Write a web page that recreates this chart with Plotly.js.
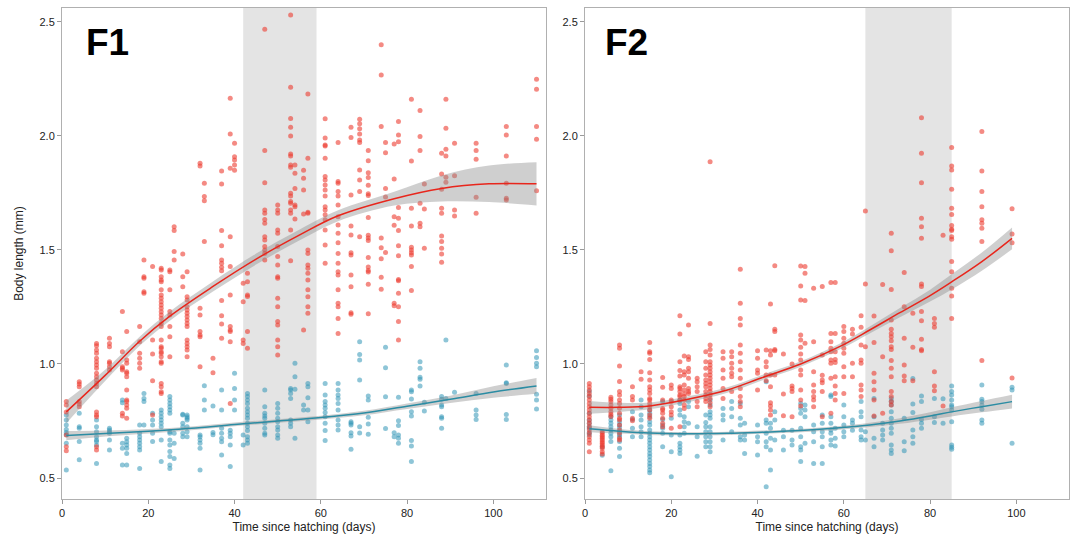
<!DOCTYPE html>
<html>
<head>
<meta charset="utf-8">
<script src="https://cdn.plot.ly/plotly-3.0.1.min.js"></script>
<style>html,body{margin:0;padding:0;background:#fff;}#chart{width:1073px;height:535px;}</style>
</head>
<body>
<div id="chart"></div>
<script>
// ---------- F1 data ----------
const f1RedDays = [1,4,8,11,14,15,18,19,21,23,25,26,28,29,32,33,35,37,39,40,42,43,47,50,53,54,56,57,61,64,67,69,71,74,75,77,78,81,83,84,88,89,91,96,103,110];
const f1RedVals = [
 [0.835,0.82,0.79,0.689,0.637,0.62],
 [0.922,0.912,0.9,0.835,0.825,0.813],
 [1.09,1.08,1.061,1.047,1.025,1.01,0.996,0.981,0.959,0.944,0.93,0.915,0.9,0.79,0.776,0.769,0.637,0.623],
 [1.113,1.09,1.076,1.01,1.003,0.988,0.974],
 [1.23,1.054,0.988,0.981,0.974,0.784,0.772],
 [1.142,1.018,1.003,0.966,0.959,0.944,0.886,0.842,0.835,0.82,0.806,0.762],
 [1.164,1.098,1.047,1.025,1.003,0.981],
 [1.456,1.383,1.376,1.317,1.31],
 [1.427,1.105,1.044,0.927,0.776],
 [1.42,1.412,1.383,1.368,1.361,1.325,1.303,1.288,1.273,1.259,1.244,1.229,1.215,1.2,1.178,1.164,1.105,1.076,1.069,1.054,1.047,1.032,1.01,1.003,0.915,0.9,0.878,0.871],
 [1.412,1.405,1.325,1.23,1.215,1.164,1.12,1.032],
 [1.602,1.585,1.493,1.456],
 [1.482,1.383,1.339],
 [1.405,1.295,1.281,1.251,1.237,1.222,1.208,1.193,1.178,1.164,1.105,1.09,1.076,1.061,1.032],
 [1.88,1.868,1.244,1.215,1.142,1.127,1.12,0.988],
 [1.792,1.734,1.716,1.537],
 [1.025,0.962],
 [1.846,1.789,1.585,1.518,1.456,1.442,1.424,1.409,1.278,1.211,1.175,1.113],
 [2.165,2.009,1.858,1.558,1.427,1.303,1.164,1.149,1.142,1.098,0.827],
 [1.968,1.909,1.895,1.873,1.85],
 [1.354,1.273,1.105,1.09],
 [1.398,1.361,1.303,1.296,1.142,1.069],
 [2.468,1.936,1.795,1.675,1.661,1.634,1.617,1.558,1.544,1.515,1.5,1.485,1.456],
 [1.697,1.675,1.661,1.588,1.573,1.515,1.471,1.434,1.383,1.376,1.288,1.251,1.186,1.171,1.105,1.076,1.039],
 [2.53,2.213,2.077,2.038,2.0,1.921,1.912,1.873,1.863,1.749,1.737,1.712,1.705,1.675,1.661,1.588,1.453],
 [1.873,1.836,1.77,1.697,1.69,1.636],
 [1.85,1.814,1.763,1.658,1.149],
 [2.184,1.902,1.665,1.661,1.5,1.485,1.434,1.42,1.398,1.368,1.325,1.295,1.251,1.222],
 [2.075,1.991,1.96,1.956,1.902,1.822,1.807,1.785,1.763,1.737,1.69,1.675,1.654,1.632,1.588,1.522,1.442],
 [1.971,1.8,1.792,1.756,1.737,1.697,1.646,1.61,1.573,1.532,1.485,1.442,1.405,1.39,1.325,1.266,1.251,1.2,1.134],
 [2.038,1.993,1.741,1.605,1.566,1.488,1.478,1.39,1.339,1.225,1.218],
 [2.073,2.053,2.031,2.009,1.982,1.971,1.851,1.807,1.756,1.558],
 [1.936,1.891,1.839,1.818,1.784,1.746,1.739,1.642,1.564,1.553,1.541,1.467,1.425,1.41,1.403,1.35,1.22],
 [2.4,2.267,2.041,1.552,1.51,1.462,1.38,1.328],
 [1.971,1.926,1.769,1.732,1.489],
 [1.965,1.811,1.646,1.608,1.266,1.255],
 [2.063,2.004,1.975,1.686,1.639,1.585,1.519,1.475,1.371,1.365,1.31,1.251,1.186,1.105],
 [2.161,1.89,1.683,1.605,1.512,1.5,1.488,1.478,1.427,1.322],
 [2.111,1.997,1.936,1.705,1.617,1.602],
 [1.789,1.68,1.507],
 [1.924,1.833,1.766,1.683,1.661,1.561,1.537,1.507,1.482,1.446],
 [2.161,2.034,1.942,1.912,1.819,1.797],
 [1.968,1.825,1.675,1.649],
 [1.968,1.936,1.898,1.731,1.661],
 [2.041,2.004,1.912,1.792,1.727,1.719],
 [2.249,2.205,2.041,1.985,1.76]
];
const f1BlueDays = [1,4,8,11,14,15,18,19,21,23,25,26,28,29,32,33,35,37,39,40,42,43,47,50,53,54,56,57,61,64,67,69,71,75,77,78,81,83,84,88,89,91,96,103,110];
const f1BlueVals = [
 [0.776,0.754,0.732,0.713,0.70,0.69,0.652,0.535],
 [0.784,0.725,0.718,0.66,0.58],
 [0.754,0.725,0.703,0.681,0.667,0.66,0.645,0.564],
 [0.718,0.711,0.703,0.696,0.667,0.623],
 [0.842,0.83,0.652,0.63,0.557],
 [0.674,0.659,0.645,0.63,0.608,0.557],
 [0.732,0.696,0.681,0.667,0.652,0.637,0.623,0.542],
 [0.871,0.849,0.835,0.732],
 [0.784,0.754,0.732,0.696,0.66],
 [0.798,0.784,0.769,0.754,0.74,0.725,0.667,0.572],
 [0.857,0.842,0.827,0.813,0.798,0.784,0.703,0.696,0.667,0.645,0.616,0.594,0.557,0.542],
 [0.696,0.652,0.586],
 [0.78,0.776,0.74,0.725,0.696,0.681],
 [0.776,0.769,0.762,0.754,0.725,0.703,0.681],
 [0.689,0.681,0.667,0.652,0.63,0.535],
 [0.905,0.842,0.798],
 [0.816,0.70,0.69],
 [0.886,0.798,0.718,0.696,0.674,0.659,0.601],
 [0.71,0.696,0.681,0.645,0.55],
 [0.959,0.893,0.842,0.798],
 [0.689,0.645],
 [0.871,0.857,0.842,0.827,0.806,0.791,0.776,0.762,0.74,0.725,0.708,0.681,0.667,0.652],
 [0.886,0.813,0.784,0.772,0.762,0.74,0.718,0.696,0.689],
 [0.827,0.806,0.784,0.762,0.747,0.725,0.711,0.689,0.674],
 [0.893,0.886,0.871,0.849,0.754,0.74,0.725],
 [1.003,0.944,0.889,0.674],
 [0.82,0.798],
 [0.915,0.9,0.852,0.798,0.747],
 [0.915,0.864,0.835,0.82,0.806,0.787,0.769,0.74,0.708,0.664],
 [0.915,0.886,0.864,0.849,0.827,0.798,0.754,0.732,0.711],
 [0.747,0.74,0.733,0.698,0.684,0.626],
 [1.098,1.042,1.018,0.93,0.725,0.697],
 [0.86,0.842,0.767,0.737,0.692],
 [1.073,0.983,0.856,0.717],
 [0.699,0.681],
 [0.854,0.751,0.73,0.689,0.674,0.652],
 [0.886,0.878,0.846,0.791,0.772,0.664,0.64,0.572],
 [1.01,0.981,0.942,0.933,0.904],
 [0.832,0.794],
 [0.857,0.845,0.82,0.812,0.769,0.762,0.718],
 [1.105,0.849],
 [0.876],
 [0.871,0.798,0.776,0.757],
 [0.996,0.918,0.915,0.779,0.757],
 [1.058,1.028,1.003,0.988,0.867,0.842,0.803]
];
// F1 fitted curves
const f1RedFitX  = [1,10,18,25,35,45,55,64,77,88,99,110];
const f1RedFitY  = [0.79,0.95,1.10,1.21,1.34,1.46,1.565,1.65,1.725,1.77,1.79,1.79];
const f1RedFitSE = [0.05,0.025,0.02,0.02,0.022,0.024,0.024,0.024,0.03,0.057,0.08,0.095];
const f1BlueFitX  = [1,10,20,30,40,50,60,70,80,90,100,110];
const f1BlueFitY  = [0.686,0.695,0.705,0.718,0.735,0.75,0.765,0.785,0.815,0.845,0.877,0.904];
const f1BlueFitSE = [0.02,0.013,0.01,0.008,0.008,0.008,0.008,0.01,0.012,0.016,0.025,0.035];
const f1Shade = [42,59];

// ---------- F2 data ----------
const f2RedDays = [1,4,6,8,11,13,15,18,20,22,23,24,26,28,29,32,34,36,40,42,43,44,46,48,50,51,53,55,57,58,60,62,64,65,67,69,71,74,76,78,81,83,85,92,99];
const f2RedVals = [
 [0.915,0.9,0.886,0.871,0.857,0.842,0.827,0.813,0.798,0.784,0.769,0.754,0.74,0.725,0.711,0.696,0.681,0.667,0.652,0.615],
 [0.703,0.696,0.688,0.681,0.674,0.667,0.659,0.652,0.645,0.637,0.63,0.615,0.605],
 [0.854,0.845,0.835,0.82,0.806,0.791,0.78,0.77],
 [1.083,1.069,0.991,0.923,0.879,0.864,0.842,0.827,0.806,0.784,0.762,0.755,0.733,0.711,0.696,0.674,0.667],
 [0.9,0.857,0.842,0.762,0.751],
 [0.966,0.933],
 [1.094,1.054,1.047,1.02,0.962,0.93,0.9,0.886,0.871,0.849,0.842,0.827,0.813,0.798,0.776,0.762],
 [0.941,0.898,0.842,0.805,0.798,0.784,0.762,0.74,0.725],
 [0.908,0.893,0.842,0.835,0.813,0.791,0.776,0.718],
 [1.211,1.132,1.01,0.971,0.947,0.9,0.893,0.879,0.864,0.857,0.842,0.725],
 [1.035,0.966,0.952,0.908,0.886,0.868,0.857,0.842,0.82,0.805],
 [1.171,1.032,1.02,0.981,0.966,0.937,0.893,0.879,0.871],
 [0.937,0.922,0.9,0.879,0.835,0.813],
 [1.054,1.01,0.981,0.952,0.93,0.915,0.9,0.879,0.864,0.849,0.835],
 [1.887,1.178,1.083,1.064,1.039,1.01,0.996,0.981,0.966,0.952,0.937,0.922,0.908,0.893,0.879,0.864,0.849,0.83,0.813],
 [1.054,1.025,0.974,0.937,0.893,0.849],
 [1.054,1.032,1.003,0.981,0.959,0.944,0.879],
 [1.415,1.266,1.2,1.171,1.083,1.047,1.01,0.974,0.937,0.893,0.857,0.835,0.813],
 [1.058,1.025,0.974,0.959,0.886],
 [1.061,1.01,0.988,0.952,0.927],
 [1.263,1.058,1.039,0.952,0.9,0.83,0.816,0.798,0.776],
 [1.431,1.152,1.142,1.064,1.058,0.952],
 [1.044,0.868,0.773],
 [1.0,0.903,0.893,0.879,0.769],
 [1.43,1.342,1.281,1.127,1.105,1.073,1.044,1.018,0.974,0.952,0.886,0.842,0.816],
 [1.427,1.398,1.278,1.091],
 [1.332,1.098,0.966,0.908,0.879,0.857,0.842,0.813],
 [1.34,1.039,0.951,0.93,0.918,0.879,0.769],
 [1.357,1.134,1.098,1.069,1.054,1.018,1.003,0.937,0.784],
 [1.357,1.134,1.054,1.02,1.006,0.944,0.903,0.871,0.842],
 [1.164,1.142,1.113,1.091,1.069,1.047,0.988,0.944,0.871],
 [1.152,1.132,1.003,0.944],
 [1.212,1.161,1.083,1.018,1.003,0.908,0.886,0.857],
 [1.671,1.351,1.076],
 [1.21,1.094,0.959,0.922,0.886,0.842,0.772],
 [1.349,1.032,0.784],
 [1.573,1.497,1.327,1.193,1.152,1.134,1.12,1.102,1.076,1.064,1.015,0.981,0.944,0.879,0.857,0.835,0.82],
 [1.401,1.251,1.113,0.996,0.947,0.927],
 [1.222,1.073,0.927],
 [2.08,1.924,1.795,1.639,1.602,1.551,1.351,1.34,1.23,1.19,1.108,1.064,1.058],
 [1.2,1.178,1.161,0.966,0.904,0.883],
 [1.564,0.816],
 [1.949,1.868,1.851,1.766,1.683,1.656,1.607,1.591,1.585,1.558,1.547,1.449,1.404,1.332,1.298,1.2],
 [2.019,1.846,1.756,1.69,1.632,1.617,1.595,1.537,1.015],
 [1.681,1.57,1.532,0.939]
];
const f2BlueDays = [1,4,6,8,11,13,15,18,20,22,23,24,26,28,29,32,34,36,37,40,42,43,44,46,48,50,51,53,55,57,58,60,62,64,65,67,69,71,74,76,78,81,83,85,92,99];
const f2BlueVals = [
 [0.88,0.86,0.784,0.754,0.74,0.725,0.718,0.70,0.69],
 [0.637,0.6],
 [0.77,0.754,0.74,0.725,0.711,0.696,0.681,0.66,0.532],
 [0.776,0.747,0.733,0.72,0.703,0.69,0.681,0.66,0.63,0.594],
 [0.791,0.757,0.718,0.681],
 [0.842,0.813,0.776,0.754,0.725,0.703,0.681],
 [0.798,0.784,0.769,0.747,0.733,0.711,0.696,0.681,0.667,0.652,0.637,0.623,0.608,0.594,0.579,0.564,0.55,0.535,0.523],
 [0.835,0.757,0.732,0.718,0.696,0.637],
 [0.762,0.689,0.615,0.506],
 [0.842,0.827,0.798,0.776,0.689,0.652,0.637,0.623,0.608],
 [0.769,0.747,0.725,0.696],
 [0.835,0.813,0.74],
 [0.725,0.681,0.596],
 [0.776,0.743,0.725,0.703,0.681,0.659,0.637],
 [0.842,0.82,0.791,0.776,0.762,0.725,0.703,0.681,0.659,0.637,0.615],
 [0.805,0.776,0.754,0.667],
 [0.835,0.805,0.769,0.703],
 [0.827,0.762,0.732,0.681,0.667],
 [0.74,0.689,0.667,0.608],
 [0.732,0.681,0.659,0.601],
 [0.922,0.754,0.74,0.696,0.659,0.637,0.462],
 [0.74,0.718,0.674,0.623,0.535],
 [0.791,0.754,0.667],
 [0.71,0.681,0.623],
 [0.71,0.667,0.645],
 [0.827,0.805,0.784,0.718,0.681,0.637,0.623,0.572],
 [0.82,0.798,0.769,0.652],
 [0.732,0.703,0.659,0.564],
 [0.776,0.74,0.703,0.681,0.637,0.564],
 [0.864,0.857,0.769,0.74,0.711,0.696,0.667,0.645],
 [0.718,0.674,0.64],
 [0.82,0.769,0.732,0.703,0.681],
 [0.754,0.74,0.71],
 [0.835,0.791,0.769,0.711,0.681,0.667],
 [0.703,0.667],
 [0.849,0.769,0.674,0.637],
 [0.74,0.711,0.689,0.667],
 [0.849,0.835,0.82,0.791,0.762,0.74,0.718,0.696,0.645,0.623,0.608],
 [0.762,0.659,0.62],
 [0.936,0.825,0.787,0.711,0.681,0.652],
 [0.86,0.835,0.757,0.74,0.718],
 [0.849,0.769,0.743],
 [0.848,0.74],
 [0.904,0.879,0.864,0.842,0.82,0.813,0.798,0.747,0.645,0.635,0.626],
 [0.908,0.845,0.835,0.82,0.801,0.754,0.74],
 [0.898,0.886,0.652]
];
const f2RedFitX  = [1,8,15,23,33,41,50,59,66,73,80,85,92,99];
const f2RedFitY  = [0.81,0.81,0.816,0.842,0.886,0.94,1.0,1.076,1.149,1.225,1.30,1.36,1.449,1.551];
const f2RedFitSE = [0.028,0.02,0.015,0.013,0.012,0.012,0.012,0.013,0.015,0.02,0.026,0.033,0.04,0.048];
const f2BlueFitX  = [1,8,15,23,33,41,50,59,66,73,80,85,92,99];
const f2BlueFitY  = [0.716,0.705,0.697,0.694,0.696,0.701,0.708,0.72,0.733,0.75,0.772,0.79,0.813,0.835];
const f2BlueFitSE = [0.015,0.01,0.008,0.007,0.007,0.007,0.007,0.008,0.009,0.012,0.016,0.02,0.025,0.03];
const f2Shade = [65,85];

const yTicks = [0.5,1.0,1.5,2.0,2.5];
const xTicks = [0,20,40,60,80,100];
const panelLabels = ['F1','F2'];

// ---------- styling ----------
const RED_PT = 'rgba(236,60,48,0.6)';
const BLUE_PT = 'rgba(50,150,182,0.55)';
const RED_LINE = '#E8261C';
const BLUE_LINE = '#2B8CA3';
const BAND = 'rgba(140,140,140,0.42)';

function flat(days, vals){
  const x=[], y=[];
  days.forEach((d,i)=>vals[i].forEach(v=>{x.push(d); y.push(v);}));
  return {x,y};
}
function pts(days, vals, color, xa, ya){
  const f = flat(days, vals);
  return {type:'scatter', mode:'markers', x:f.x, y:f.y, xaxis:xa, yaxis:ya,
    marker:{size:5, color:color, line:{width:0}}, hoverinfo:'skip'};
}
function band(fx, fy, se, xa, ya){
  const hi = fy.map((v,i)=>v+se[i]);
  const lo = fy.map((v,i)=>v-se[i]);
  return [
    {type:'scatter', mode:'lines', x:fx, y:hi, xaxis:xa, yaxis:ya, line:{width:0, shape:'spline'}, hoverinfo:'skip'},
    {type:'scatter', mode:'lines', x:fx, y:lo, xaxis:xa, yaxis:ya, line:{width:0, shape:'spline'}, fill:'tonexty', fillcolor:BAND, hoverinfo:'skip'}
  ];
}
function fit(fx, fy, color, xa, ya){
  return {type:'scatter', mode:'lines', x:fx, y:fy, xaxis:xa, yaxis:ya, line:{color:color, width:1.5, shape:'spline'}, hoverinfo:'skip'};
}

const traces = [
  pts(f1BlueDays, f1BlueVals, BLUE_PT, 'x', 'y'),
  pts(f1RedDays, f1RedVals, RED_PT, 'x', 'y'),
  ...band(f1RedFitX, f1RedFitY, f1RedFitSE, 'x', 'y'),
  ...band(f1BlueFitX, f1BlueFitY, f1BlueFitSE, 'x', 'y'),
  fit(f1RedFitX, f1RedFitY, RED_LINE, 'x', 'y'),
  fit(f1BlueFitX, f1BlueFitY, BLUE_LINE, 'x', 'y'),
  pts(f2BlueDays, f2BlueVals, BLUE_PT, 'x2', 'y2'),
  pts(f2RedDays, f2RedVals, RED_PT, 'x2', 'y2'),
  ...band(f2RedFitX, f2RedFitY, f2RedFitSE, 'x2', 'y2'),
  ...band(f2BlueFitX, f2BlueFitY, f2BlueFitSE, 'x2', 'y2'),
  fit(f2RedFitX, f2RedFitY, RED_LINE, 'x2', 'y2'),
  fit(f2BlueFitX, f2BlueFitY, BLUE_LINE, 'x2', 'y2')
];

const FONT = 'Liberation Sans, Arial, sans-serif';
const yDom = [1-499/535, 1-8/535];
function xAxis(dom, anchor){
  return {domain:dom, anchor:anchor, range:[0,112.2], tickvals:xTicks, ticks:'outside', ticklen:4, tickwidth:1,
    tickcolor:'#9a9a9a', showline:true, linecolor:'#b0b0b0', linewidth:1, mirror:true, showgrid:false, zeroline:false,
    tickfont:{size:11, color:'#222'},
    title:{text:'Time since hatching (days)', font:{size:12, color:'#222'}, standoff:4}};
}
function yAxis(anchor, withTitle){
  const a = {domain:yDom, anchor:anchor, range:[0.408,2.561], tickvals:yTicks, tickformat:'.1f', ticks:'outside', ticklen:4, tickwidth:1,
    tickcolor:'#9a9a9a', showline:true, linecolor:'#b0b0b0', linewidth:1, mirror:true, showgrid:false, zeroline:false,
    tickfont:{size:11, color:'#222'}};
  if (withTitle) a.title = {text:'Body length (mm)', font:{size:12, color:'#222'}, standoff:13};
  return a;
}

const layout = {
  width:1073, height:535,
  margin:{l:0, r:0, t:0, b:0},
  paper_bgcolor:'#ffffff', plot_bgcolor:'#ffffff',
  showlegend:false,
  font:{family:FONT, size:11, color:'#222'},
  xaxis: xAxis([62/1073, 546/1073], 'y'),
  yaxis: yAxis('x', true),
  xaxis2: xAxis([585/1073, 1069/1073], 'y2'),
  yaxis2: yAxis('x2', false),
  shapes:[
    {type:'rect', xref:'x', yref:'y domain', x0:f1Shade[0], x1:f1Shade[1], y0:0, y1:1, fillcolor:'#e4e4e4', line:{width:0}, layer:'below'},
    {type:'rect', xref:'x2', yref:'y2 domain', x0:f2Shade[0], x1:f2Shade[1], y0:0, y1:1, fillcolor:'#e4e4e4', line:{width:0}, layer:'below'}
  ],
  annotations:[
    {text:'<b>'+panelLabels[0]+'</b>', xref:'x domain', yref:'y domain', x:0.046, y:0.929, xanchor:'left', yanchor:'middle', showarrow:false, font:{size:37, color:'#000', family:FONT}},
    {text:'<b>'+panelLabels[1]+'</b>', xref:'x2 domain', yref:'y2 domain', x:0.038, y:0.929, xanchor:'left', yanchor:'middle', showarrow:false, font:{size:37, color:'#000', family:FONT}}
  ]
};

Plotly.newPlot('chart', traces, layout, {staticPlot:true, displayModeBar:false});
</script>
</body>
</html>
